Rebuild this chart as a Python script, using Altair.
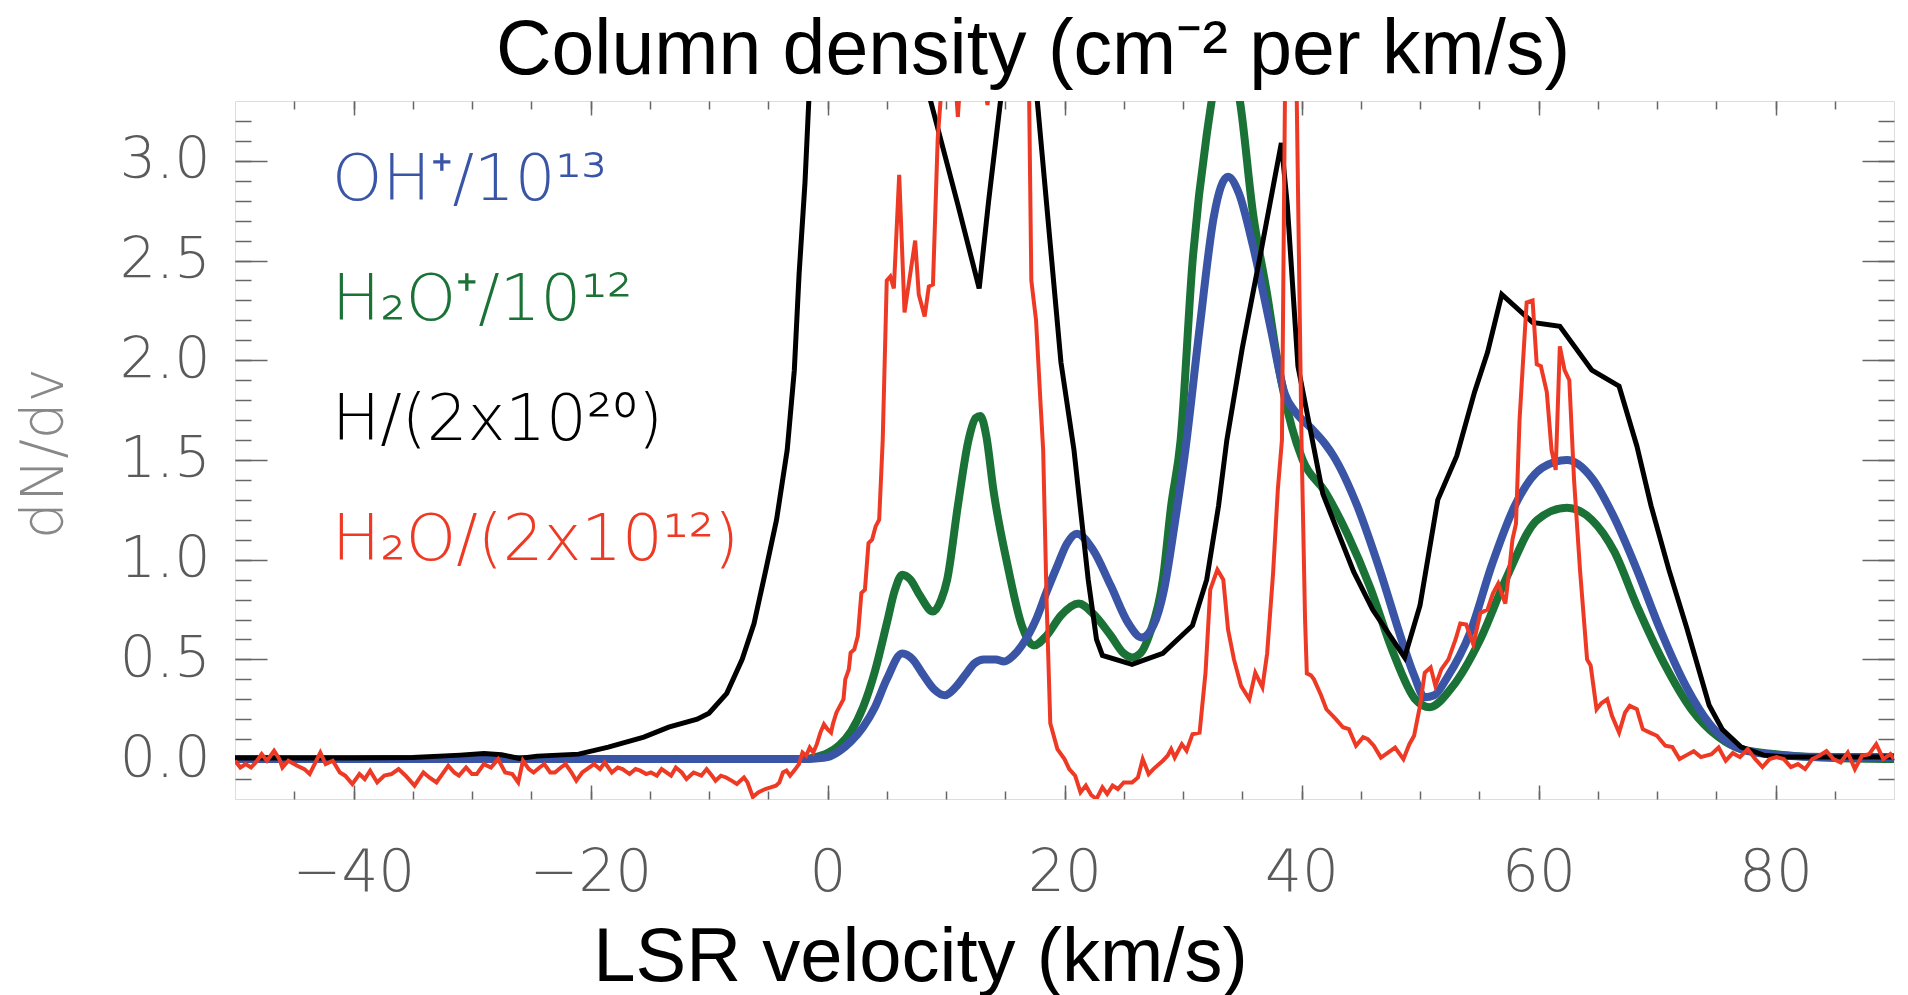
import altair as alt
import pandas as pd

# ---------------- data ----------------
# H2O / (2x10^12)  (red, noisy)
h2o_v = [-50.0, -49.55, -49.1, -48.65, -48.2, -47.75, -47.3, -46.7, -46.25, -46.0, -45.5, -44.75, -44.15, -43.7,
         -42.8, -42.35, -41.75, -41.15, -40.7, -40.1, -39.5, -39.05, -38.6, -38.0, -37.4, -36.8, -36.2, -35.6,
         -34.85, -34.1, -33.6, -33.0, -32.0, -31.5, -31.1, -30.5, -30.0, -29.6, -29.0, -28.4, -27.8, -27.2,
         -26.6, -26.1, -25.7, -25.2, -24.8, -24.3, -23.9, -23.4, -23.0, -22.5, -22.1, -21.6, -21.2, -20.7,
         -20.3, -19.7, -19.2, -18.8, -18.2, -17.7, -17.3, -16.7, -16.2, -15.8, -15.3, -14.9, -14.4, -14.0,
         -13.2, -12.8, -12.3, -11.9, -11.3, -10.65, -10.2, -9.75, -9.45, -9.0, -8.55, -8.1, -7.65, -7.05,
         -6.75, -6.3, -5.85, -5.25, -4.8, -4.35, -4.06, -3.76, -3.46, -3.16, -2.71, -2.41, -2.11, -1.8, -1.5,
         -1.2, -0.9, -0.6, -0.3, 0.0, 0.3, 0.45, 0.75, 1.05, 1.35, 1.5, 1.8, 1.95, 2.26, 2.56, 2.86, 3.16,
         3.46, 3.76, 4.06, 4.36, 4.66, 5.0, 5.3, 5.6, 6.05, 6.5, 7.05, 7.4, 7.7, 8.2, 8.55, 8.9, 9.3, 9.6,
         10.2, 10.8, 11.0, 11.2, 12.0, 13.0, 13.5, 13.8, 15.0, 16.0, 16.8, 17.0, 17.2, 17.6, 18.0, 18.2,
         18.5, 18.8, 19.4, 20.0, 20.4, 20.9, 21.35, 21.8, 22.25, 22.7, 23.2, 23.6, 24.06, 24.5, 25.0, 25.7,
         26.2, 26.6, 27.1, 27.5, 28.3, 28.7, 29.0, 29.3, 29.9, 30.3, 30.8, 31.4, 31.9, 32.3, 32.9, 33.4,
         33.8, 34.3, 34.9, 35.6, 36.1, 36.7, 37.1, 37.6, 38.0, 38.35, 38.6, 39.1, 39.6, 40.0, 40.3, 40.45,
         40.8, 41.05, 41.65, 42.1, 42.9, 43.5, 44.0, 44.6, 45.2, 45.6, 46.1, 46.7, 47.3, 47.9, 48.6, 49.1,
         49.5, 50.0, 50.4, 50.9, 51.3, 51.8, 52.4, 53.0, 53.4, 53.9, 54.5, 55.1, 55.7, 56.15, 56.6, 57.2,
         57.5, 57.8, 58.1, 58.4, 58.7, 59.0, 59.5, 59.85, 60.2, 60.7, 61.1, 61.45, 61.8, 62.2, 62.6, 63.0,
         63.5, 64.1, 64.4, 64.9, 65.3, 65.8, 66.2, 66.8, 67.3, 67.7, 68.3, 68.8, 69.4, 70.0, 70.7, 71.3,
         71.9, 72.5, 73.1, 73.7, 74.6, 75.2, 75.8, 76.4, 77.0, 77.65, 78.3, 78.9, 79.5, 80.1, 80.7, 81.3,
         81.9, 82.5, 83.1, 83.7, 84.3, 84.9, 85.5, 86.1, 86.7, 87.3, 87.9, 88.5, 89.1, 89.7, 90.0]
h2o_n = [-0.008, -0.042, -0.025, -0.042, -0.013, 0.025, -0.008, 0.042, 0.0, -0.042, -0.008, -0.033, -0.05, -0.075,
         0.033, -0.025, -0.008, -0.067, -0.083, -0.125, -0.075, -0.1, -0.058, -0.117, -0.083, -0.075, -0.05, -0.083,
         -0.133, -0.067, -0.092, -0.117, -0.033, -0.067, -0.083, -0.042, -0.075, -0.075, -0.025, -0.042, 0.0, -0.067,
         -0.075, -0.117, -0.008, -0.05, -0.067, -0.042, -0.025, -0.067, -0.067, -0.042, -0.025, -0.067, -0.108, -0.067,
         -0.05, -0.025, -0.05, -0.017, -0.067, -0.042, -0.05, -0.075, -0.05, -0.058, -0.075, -0.067, -0.083, -0.05,
         -0.083, -0.042, -0.067, -0.1, -0.067, -0.083, -0.05, -0.083, -0.108, -0.083, -0.092, -0.108, -0.125, -0.092,
         -0.117, -0.19, -0.167, -0.15, -0.142, -0.133, -0.117, -0.067, -0.058, -0.083, -0.05, -0.025, 0.033, 0.017, 0.058,
         0.033, 0.075, 0.133, 0.175, 0.15, 0.133, 0.175, 0.233, 0.267, 0.3, 0.4, 0.45, 0.533, 0.55, 0.617, 0.833, 0.85,
         1.083, 1.1, 1.167, 1.2, 1.6, 2.4, 2.42, 2.36, 2.93, 2.24, 2.46, 2.6, 2.33, 2.22, 2.37, 2.38, 3.11, 3.35,
         3.6, 3.4, 3.22, 3.4, 3.7, 3.5, 3.28, 3.45, 4.5, 5.0, 4.0, 3.4, 2.4, 2.2, 1.76, 1.55,
         0.77, 0.18, 0.05, 0.0, -0.05, -0.083, -0.167, -0.133, -0.18, -0.2, -0.142, -0.175, -0.133, -0.15, -0.117, -0.117,
         -0.092, 0.0, -0.075, -0.05, -0.008, 0.017, 0.05, 0.008, 0.075, 0.042, 0.125, 0.133, 0.433, 0.85, 0.95, 0.9,
         0.65, 0.5, 0.367, 0.3, 0.433, 0.36, 0.53, 0.93, 1.35, 1.6, 3.3, 5.0, 3.3, 1.6, 0.7, 0.43,
         0.42, 0.4, 0.32, 0.25, 0.2, 0.16, 0.15, 0.067, 0.11, 0.1, 0.067, 0.008, 0.033, 0.058, 0.0, 0.075,
         0.117, 0.267, 0.433, 0.46, 0.367, 0.45, 0.5, 0.6, 0.68, 0.675, 0.575, 0.733, 0.75, 0.83, 0.88, 0.78,
         0.93, 1.1, 1.18, 1.7, 2.0, 2.29, 2.3, 1.98, 1.97, 1.84, 1.55, 1.45, 2.07, 1.95, 1.9, 1.4,
         0.95, 0.5, 0.47, 0.25, 0.28, 0.3, 0.217, 0.133, 0.233, 0.267, 0.25, 0.15, 0.133, 0.117, 0.067, 0.06,
         0.0, 0.02, 0.04, 0.01, 0.025, 0.058, -0.008, 0.03, 0.01, 0.05, 0.0, -0.04, 0.0, 0.01, 0.0, -0.04,
         -0.025, -0.05, 0.0, 0.017, 0.04, 0.0, -0.017, 0.033, -0.05, 0.017, 0.025, 0.075, 0.0, 0.025, 0.0]

# OH+ / 10^13  (blue)
oh_v = [-50, -2, -1, 0, 1, 2, 3, 4, 5, 6.3, 7.2, 8, 9, 9.9, 10.8, 11.6, 12.4, 13.2, 14.2, 14.9, 15.7, 16.4,
        17.6, 18.5, 19.4, 20.2, 21.05, 22.4, 23.9, 25.4, 26.5, 27.5, 28.4, 29.3, 30.2, 31.4, 32.6, 33.2, 33.8,
        34.7, 35.9, 37.4, 38.6, 39.5, 40.8, 42.0, 42.7, 44.7, 46.6, 48.5, 49.5, 50.4, 51.2, 52.3, 54.2, 56.1,
        58.0, 60.3, 62.4, 64.5, 66.4, 68.3, 70.2, 72.5, 74.4, 77.1, 80.2, 84.7, 90]
oh_n = [0, 0, 0.003, 0.01, 0.04, 0.09, 0.16, 0.26, 0.4, 0.53, 0.5, 0.43, 0.35, 0.32, 0.36, 0.42, 0.48, 0.5, 0.5,
        0.49, 0.52, 0.57, 0.7, 0.84, 0.97, 1.08, 1.13, 1.05, 0.87, 0.68, 0.61, 0.67, 0.85, 1.18, 1.55, 2.16, 2.72,
        2.87, 2.92, 2.84, 2.575, 2.16, 1.83, 1.74, 1.66, 1.58, 1.52, 1.27, 0.95, 0.59, 0.42, 0.31, 0.32, 0.41,
        0.63, 0.98, 1.27, 1.46, 1.5, 1.41, 1.21, 0.95, 0.66, 0.36, 0.18, 0.05, 0.02, 0.01, 0.01]

# H2O+ / 10^12  (green)
h2op_v = [-50, -2, -1, 0, 1, 2, 3, 4, 5, 5.7, 6.3, 7, 7.8, 8.9, 9.6, 10.1, 11.0, 11.9, 12.5, 12.9, 13.4, 14.0,
          15.2, 16.4, 17.4, 18.5, 19.7, 21.2, 22.4, 23.9, 25.0, 25.7, 26.4, 27.2, 28.3, 29.0, 29.8, 30.8, 32.0,
          33.5, 34.8, 35.9, 37.1, 38.0, 39.2, 40.1, 42.0, 43.9, 45.8, 47.7, 49.6, 50.8, 52.7, 55.0, 57.3, 59.9,
          62.4, 64.5, 66.4, 68.3, 70.6, 72.9, 75.2, 77.1, 80.9, 85, 90]
h2op_n = [0, 0, 0.01, 0.03, 0.07, 0.14, 0.26, 0.44, 0.68, 0.85, 0.925, 0.9, 0.82, 0.74, 0.8, 0.9, 1.27, 1.6, 1.71,
          1.72, 1.62, 1.35, 0.97, 0.67, 0.57, 0.62, 0.72, 0.78, 0.73, 0.62, 0.53, 0.51, 0.53, 0.63, 0.9, 1.27, 1.6,
          2.49, 3.13, 3.55, 3.3, 2.74, 2.33, 1.99, 1.66, 1.5, 1.34, 1.125, 0.86, 0.54, 0.3, 0.26, 0.36, 0.59, 0.91,
          1.2, 1.26, 1.2, 1.04, 0.77, 0.48, 0.25, 0.11, 0.05, 0.02, 0.005, 0]

# H / (2x10^20)  (black)
h_v = [-50, -40, -35, -31, -29, -27.5, -26, -24.5, -21, -18.5, -15.5, -13.4, -11, -10, -8.5, -7.2, -6.2, -5.2,
       -4.3, -3.4, -2.8, -2.4, -1.9, -1.5, 0, 4, 7.5, 8.7, 11.0, 12.8, 13.6, 14.2, 14.7, 16, 17.4, 18.8, 19.7,
       20.8, 22.0, 22.7, 23.2, 25.7, 28.3, 30.8, 32.0, 33.0, 33.7, 35.0, 36.5, 38.3, 38.8, 39.7, 41.8, 44.4,
       46.0, 48.7, 50.0, 51.5, 53.1, 54.6, 55.7, 56.9, 59.5, 61.8, 64.5, 66.8, 68.3, 69.5, 71.0, 72.5, 74.4,
       75.5, 77.1, 79.0, 81.0, 90.0]
h_n = [0.005, 0.005, 0.008, 0.02, 0.028, 0.022, 0.003, 0.015, 0.025, 0.06, 0.11, 0.16, 0.2, 0.23, 0.33, 0.5,
       0.68, 0.95, 1.2, 1.55, 1.95, 2.43, 2.89, 3.4, 4.8, 5.5, 3.6, 3.3, 2.78, 2.36, 2.8, 3.1, 3.35, 4.2, 3.5,
       2.58, 1.99, 1.55, 0.9, 0.6, 0.52, 0.475, 0.53, 0.67, 0.9, 1.27, 1.6, 2.06, 2.52, 3.09, 2.78, 1.97, 1.33,
       0.94, 0.75, 0.51, 0.77, 1.3, 1.52, 1.84, 2.04, 2.33, 2.19, 2.17, 1.95, 1.87, 1.57, 1.27, 0.95, 0.66,
       0.27, 0.15, 0.06, 0.02, 0.01, 0.01]

legend_labels = ["OH\u207a/10\u00b9\u00b3", "H\u2082O\u207a/10\u00b9\u00b2",
                 "H/(2x10\u00b2\u2070)", "H\u2082O/(2x10\u00b9\u00b2)"]
title_text = "Column density (cm\u207b\u00b2 per km/s)"

x_major = [-40, -20, 0, 20, 40, 60, 80]
x_minor = [-45, -40, -35, -30, -25, -20, -15, -10, -5, 0, 5, 10, 15, 20, 25, 30, 35, 40, 45, 50, 55, 60, 65,
           70, 75, 80, 85]
y_major = [0.0, 0.5, 1.0, 1.5, 2.0, 2.5, 3.0]
y_minor = [-0.1, 0.0, 0.1, 0.2, 0.3, 0.4, 0.5, 0.6, 0.7, 0.8, 0.9, 1.0, 1.1, 1.2, 1.3, 1.4, 1.5, 1.6, 1.7,
           1.8, 1.9, 2.0, 2.1, 2.2, 2.3, 2.4, 2.5, 2.6, 2.7, 2.8, 2.9, 3.0, 3.1, 3.2]

assert len(h2o_v) == len(h2o_n)
assert len(oh_v) == len(oh_n)
assert len(h2op_v) == len(h2op_n)
assert len(h_v) == len(h_n)

# ---------------- styling ----------------
W, H = 1659, 698
RED, BLUE, GREEN, BLACK = "#ee3a24", "#3a55a6", "#1b7236", "#000000"
LF = "DejaVu Sans"
LW = 200
LC = "#5a5a5a"
TC = "#666666"

xs = alt.Scale(domain=[-50, 90], nice=False, zero=False)
ys = alt.Scale(domain=[-0.2, 3.3], nice=False, zero=False)


def df(v, n):
    return pd.DataFrame({"v": v, "n": n})


def tick_axis(orient, offset, values, size):
    return alt.Axis(orient=orient, offset=offset, values=values, tickSize=size, tickColor=TC,
                    tickWidth=1.5, labels=False, domain=False, grid=False, title=None)


def enc(xaxis, yaxis):
    return dict(x=alt.X("v:Q", scale=xs, axis=xaxis), y=alt.Y("n:Q", scale=ys, axis=yaxis))


ax_x_lab = alt.Axis(orient="bottom", values=x_major, format="d", tickSize=0, domain=False, grid=False,
                    labelFont=LF, labelFontSize=58, labelFontWeight=LW, labelColor=LC, labelPadding=45,
                    labelFlush=False, labelOverlap=False,
                    title="LSR velocity (km/s)", titleFont="Liberation Sans", titleFontSize=76,
                    titleFontWeight="normal", titleColor="black", titleX=685, titleY=181,
                    titleBaseline="alphabetic", titleAlign="center")
ax_y_lab = alt.Axis(orient="left", values=y_major, format=".1f", tickSize=0, domain=False, grid=False,
                    labelFont=LF, labelFontSize=57, labelFontWeight=LW, labelColor=LC, labelPadding=25,
                    labelOverlap=False,
                    title="dN/dv", titleFont=LF, titleFontSize=58, titleFontWeight=LW, titleColor="#888888",
                    titleAngle=270, titleX=-173, titleY=352, titleBaseline="alphabetic", titleAlign="center")

ghost = alt.Chart(df(h_v, h_n)).mark_line(opacity=0, clip=True).encode(
    **enc(tick_axis("bottom", -H, x_minor, 8), tick_axis("left", -W, y_minor, 16)))
green = alt.Chart(df(h2op_v, h2op_n)).mark_line(color=GREEN, strokeWidth=8, clip=True,
                                                interpolate="monotone").encode(**enc(ax_x_lab, ax_y_lab))
blue = alt.Chart(df(oh_v, oh_n)).mark_line(color=BLUE, strokeWidth=8, clip=True,
                                           interpolate="monotone").encode(
    **enc(tick_axis("top", -H, x_major, 14), tick_axis("right", -W, y_major, 32)))
black = alt.Chart(df(h_v, h_n)).mark_line(color=BLACK, strokeWidth=5, clip=True).encode(
    **enc(tick_axis("bottom", -H, x_major, 14), tick_axis("left", -W, y_major, 32)))
red = alt.Chart(df(h2o_v, h2o_n)).mark_line(color=RED, strokeWidth=4, clip=True).encode(
    **enc(tick_axis("top", -H, x_minor, 8), tick_axis("right", -W, y_minor, 16)))


def label(text, color, y):
    return alt.Chart(pd.DataFrame({"t": [text]})).mark_text(
        align="left", baseline="alphabetic", font=LF, fontSize=64, fontWeight=LW, color=color
    ).encode(text="t:N", x=alt.value(97), y=alt.value(y))


texts = [label(legend_labels[0], BLUE, 99), label(legend_labels[1], GREEN, 219),
         label(legend_labels[2], BLACK, 339), label(legend_labels[3], RED, 459)]

title = alt.Chart(pd.DataFrame({"t": [title_text]})).mark_text(
    align="center", baseline="alphabetic", font="Liberation Sans", fontSize=77, color="black"
).encode(text="t:N", x=alt.value(798), y=alt.value(-27))

chart = alt.layer(ghost, green, blue, black, red, *texts, title).resolve_axis(
    x="independent", y="independent"
).properties(
    width=W, height=H,
    autosize=alt.AutoSizeParams(type="none"),
    padding={"left": 235, "top": 101, "right": 14, "bottom": 196},
).configure_view(stroke="#9a9a9a", strokeWidth=2).configure(background="white")

chart.save("out.html", embed_options={"renderer": "svg", "actions": False})
